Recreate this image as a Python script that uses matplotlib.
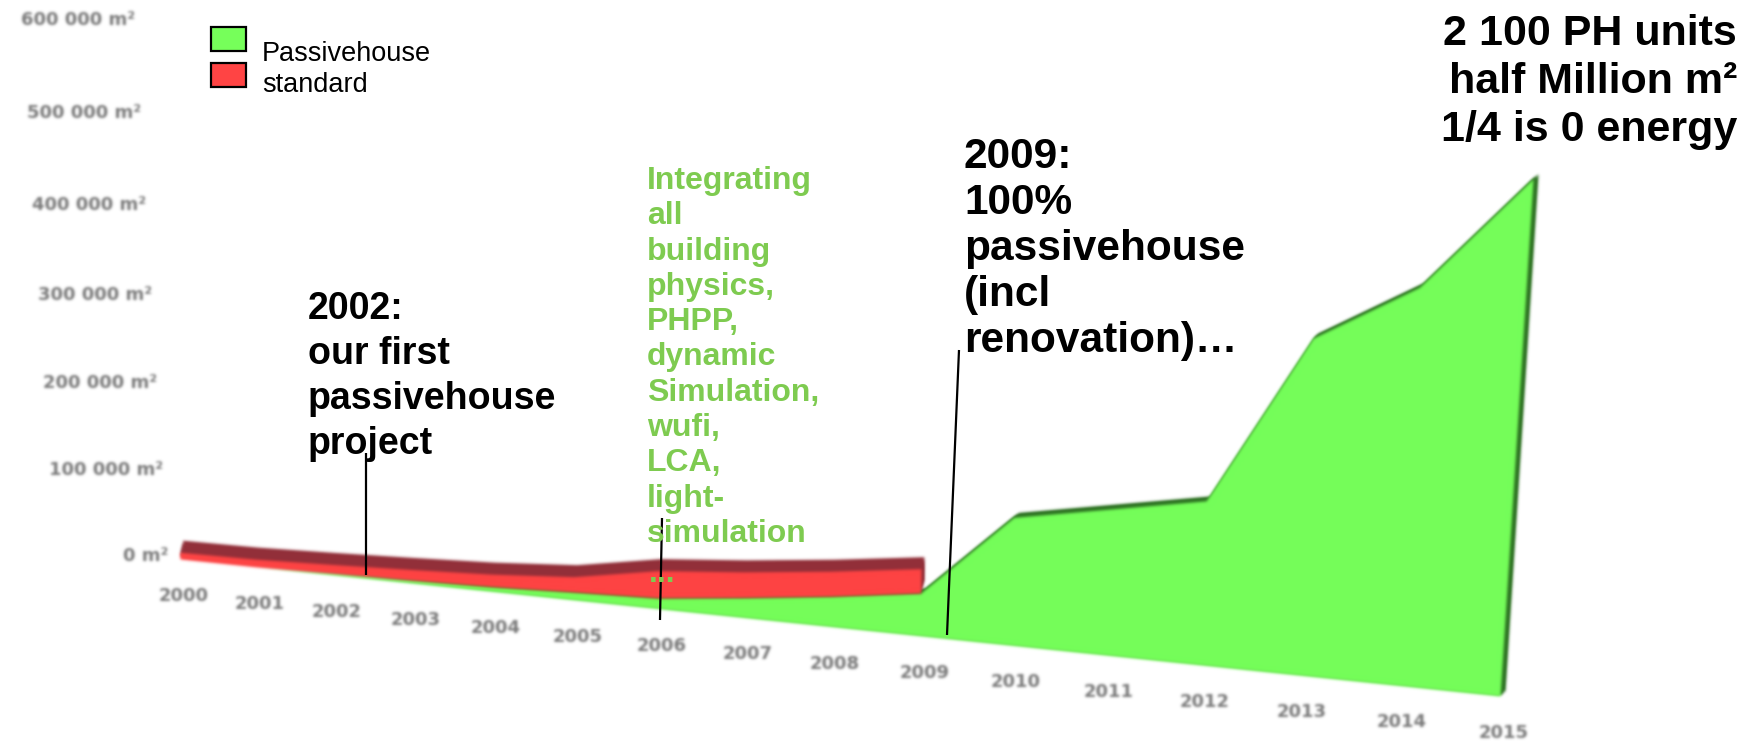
import numpy as np
import matplotlib
matplotlib.use("Agg")
import matplotlib.pyplot as plt
from matplotlib.transforms import Transform, Affine2D
from matplotlib.patches import Rectangle

# ---------------------------------------------------------------- data
years = np.arange(2000, 2016)
year_labels = [str(y) for y in years]

# floor area built to the passive house standard (m²)
passivehouse = np.array([0, 0, 2_000, 3_500, 5_500, 9_000, 12_000, 22_000, 33_000,
                         46_000, 135_000, 152_000, 169_000, 338_000, 393_000, 500_000])

# floor area built to the conventional standard, stacked on top (m²)
standard_years = years[:10]
standard = np.array([8_000, 9_000, 10_000, 12_000, 14_000, 17_000, 30_000, 28_000,
                     27_000, 26_000])

ytick_values = [0, 100_000, 200_000, 300_000, 400_000, 500_000, 600_000]
ytick_labels = ["0 m²", "100 000 m²", "200 000 m²", "300 000 m²",
                "400 000 m²", "500 000 m²", "600 000 m²"]

legend_labels = ["Passivehouse", "standard"]

note_2002 = ["2002:", "our first", "passivehouse", "project"]
note_tools = ["Integrating", "all", "building", "physics,", "PHPP,", "dynamic",
              "Simulation,", "wufi,", "LCA,", "light-", "simulation"]
note_2009 = ["2009:", "100%", "passivehouse", "(incl", "renovation)…"]
note_total = ["2 100 PH units", "half Million m²", "1/4 is 0 energy"]

# ---------------------------------------------------------------- style
GREEN = "#76ff5a"
GREEN_DARK = "#2f7424"
RED = "#ff4444"
RED_DARK = "#93303a"
TEXT_GREEN = "#7ecb50"
AXIS_GREY = "#7a7a7a"
FONT = "Liberation Sans"

W, H = 1747, 749


class PlanarProjection(Transform):
    """Projective map of the chart wall (unit square) onto the page."""
    input_dims = 2
    output_dims = 2
    is_separable = False
    has_inverse = False

    def __init__(self, src, dst):
        super().__init__()
        rows, rhs = [], []
        for (x, y), (X, Y) in zip(src, dst):
            rows.append([x, y, 1, 0, 0, 0, -X * x, -X * y])
            rhs.append(X)
            rows.append([0, 0, 0, x, y, 1, -Y * x, -Y * y])
            rhs.append(Y)
        h = np.linalg.solve(np.array(rows, float), np.array(rhs, float))
        self.matrix = np.append(h, 1.0).reshape(3, 3)

    def transform_non_affine(self, values):
        v = np.asarray(values, float).reshape(-1, 2)
        p = np.column_stack([v, np.ones(len(v))]) @ self.matrix.T
        return p[:, :2] / p[:, 2:3]


def gaussian_blur(sigma):
    radius = max(1, int(np.ceil(3 * sigma)))
    xs = np.arange(-radius, radius + 1)
    kernel = np.exp(-0.5 * (xs / sigma) ** 2)
    kernel /= kernel.sum()

    def _filter(image, dpi):
        img = np.pad(image.astype(float), ((radius, radius), (radius, radius), (0, 0)))
        img[..., :3] *= img[..., 3:4]
        h, w = img.shape[:2]
        tmp = np.zeros_like(img)
        padded = np.pad(img, ((radius, radius), (0, 0), (0, 0)))
        for i, k in enumerate(kernel):
            tmp += k * padded[i:i + h]
        out = np.zeros_like(img)
        padded = np.pad(tmp, ((0, 0), (radius, radius), (0, 0)))
        for i, k in enumerate(kernel):
            out += k * padded[:, i:i + w]
        alpha = out[..., 3:4]
        rgb = out[..., :3] / np.maximum(alpha, 1e-6)
        res = np.concatenate([np.clip(rgb, 0, 1), np.clip(alpha, 0, 1)], axis=-1)
        return res, -radius, -radius

    return _filter


fig = plt.figure(figsize=(W / 100, H / 100), dpi=100)
fig.patch.set_facecolor("white")
ax = fig.add_axes([0, 0, 1, 1])
ax.set_autoscale_on(False)
ax.set_xlim(0, W)
ax.set_ylim(H, 0)
ax.axis("off")

# corners of the value wall: (year, m²) -> page pixels
wall_src = [(0, 0), (1, 0), (1, 1), (0, 1)]
wall_dst = [(180, 559), (1500, 696), (1540, 69), (147, 23)]
to_screen = (Affine2D().translate(-years[0], 0).scale(1 / 15, 1 / 600_000)
             + PlanarProjection(wall_src, wall_dst) + ax.transData)


def lifted(dx, dy):
    return to_screen + Affine2D().translate(dx, dy)


soft = gaussian_blur(1.0)

# passive house area with its extruded top/side faces
for t in (1.0, 0.6, 0.3):
    a = ax.fill_between(years, 0, passivehouse, transform=lifted(5 * t, 5 * t),
                        color=GREEN_DARK, lw=0)
    a.set_agg_filter(soft)
a = ax.fill_between(years, 0, passivehouse, transform=to_screen, color=GREEN, lw=0)
a.set_agg_filter(soft)

# conventional-standard area stacked on top, with its top face
total = passivehouse[:10] + standard
for t in (1.0, 0.75, 0.5, 0.25):
    a = ax.fill_between(standard_years, passivehouse[:10], total,
                        transform=lifted(3 * t, 12 * t), color=RED_DARK, lw=0)
    a.set_agg_filter(soft)
a = ax.fill_between(standard_years, passivehouse[:10], total, transform=to_screen,
                    color=RED, lw=0)
a.set_agg_filter(soft)

# axis labels on the chart wall
label_blur = gaussian_blur(1.3)
for v, lab in zip(ytick_values, ytick_labels):
    t = ax.text(years[0], v, lab, transform=lifted(-12, 3), ha="right", va="center",
                fontsize=13, fontweight="bold", color=AXIS_GREY, family="DejaVu Sans")
    t.set_agg_filter(label_blur)
for y, lab in zip(years, year_labels):
    t = ax.text(y, 0, lab, transform=lifted(4, -37), ha="center", va="center",
                fontsize=13, fontweight="bold", color=AXIS_GREY, family="DejaVu Sans")
    t.set_agg_filter(label_blur)

# legend
for (y0, color), lab, base in zip([(27, GREEN), (63, RED)], legend_labels, [61, 92]):
    ax.add_patch(Rectangle((211, y0), 35, 24, facecolor=color, edgecolor="black", lw=1.6))
    ax.text(262, base, lab, fontsize=19.5, family=FONT, color="black", va="baseline")


def text_block(lines, x, first_base, pitch, **kw):
    for i, line in enumerate(lines):
        ax.text(x, first_base + i * pitch, line, va="baseline", family=FONT,
                fontweight="bold", **kw)


text_block(note_2002, 308, 319, 45, fontsize=27, color="black")
text_block(note_tools, 647, 189, 35.3, fontsize=23, color=TEXT_GREEN)
ax.text(649, 582, "...", va="baseline", family=FONT, fontweight="bold",
        fontsize=23, color=TEXT_GREEN)
text_block(note_2009, 964, 168, 46, fontsize=30.5, color="black")
for i, line in enumerate(note_total):
    ax.text(1737, 45 + i * 48, line, ha="right", va="baseline", family=FONT,
            fontweight="bold", fontsize=31, color="black")

# leader lines from the notes to the chart
ax.plot([366, 366], [453, 575], color="black", lw=1.6, solid_capstyle="butt")
ax.plot([662, 660], [518, 620], color="black", lw=1.6, solid_capstyle="butt")
ax.plot([959, 947], [350, 635], color="black", lw=1.6, solid_capstyle="butt")

fig.savefig("out.png", dpi=100, facecolor="white")
